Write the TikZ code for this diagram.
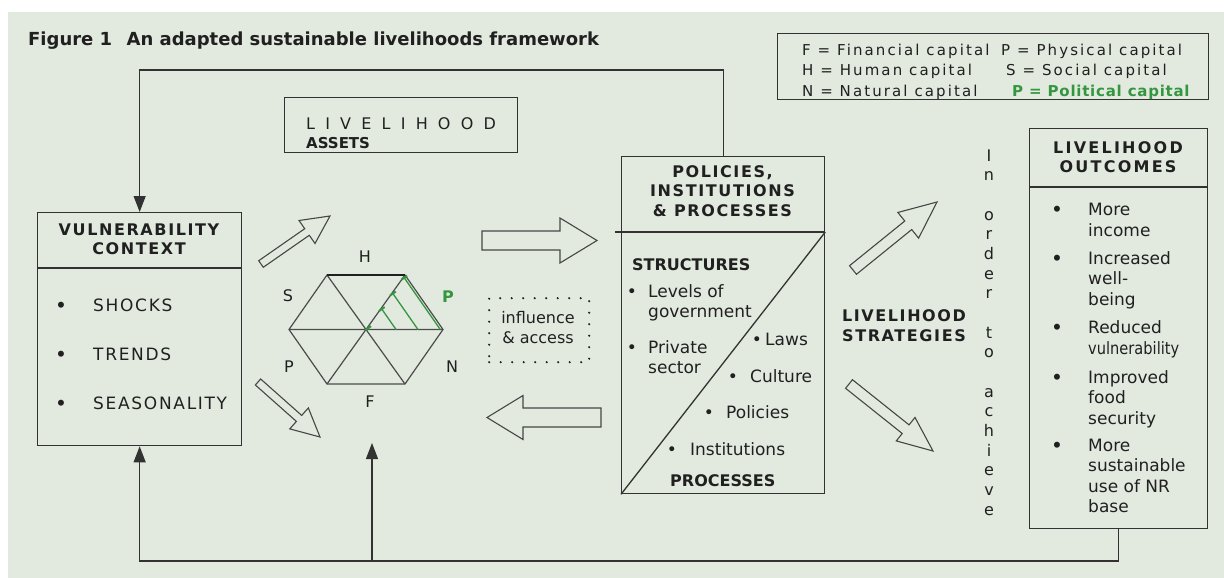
\documentclass[tikz,border=0pt]{standalone}
\usepackage{fontspec}
\setmainfont{DejaVu Sans}
\newfontfamily\trackXS[LetterSpace=5]{DejaVu Sans}
\newfontfamily\trackS[LetterSpace=10]{DejaVu Sans}
\newfontfamily\trackM[LetterSpace=14]{DejaVu Sans}
\newfontfamily\trackXL[LetterSpace=32]{DejaVu Sans}
\usetikzlibrary{calc,arrows.meta}

\definecolor{panel}{RGB}{226,234,223}
\definecolor{ink}{RGB}{32,32,32}
\definecolor{linec}{RGB}{50,50,50}
\definecolor{arrowc}{RGB}{70,70,70}
\definecolor{hexc}{RGB}{75,75,75}
\definecolor{polgreen}{RGB}{52,150,64}

\newcommand\setfs[1]{\fontsize{#1}{#1}\selectfont}

% hollow block arrow: name, tail, tip, shaft half-width, head half-width, head length
\newcommand\hollowarrow[6]{%
  \coordinate (#1-t) at #2;
  \coordinate (#1-p) at #3;
  \coordinate (#1-b) at ($(#1-p)!#6!(#1-t)$);
  \draw[blockarrow] ($(#1-t)!#4!90:(#1-p)$) -- ($(#1-b)!#4!-90:(#1-t)$)
    -- ($(#1-b)!#5!-90:(#1-t)$) -- (#1-p) -- ($(#1-b)!#5!90:(#1-t)$)
    -- ($(#1-b)!#4!90:(#1-t)$) -- ($(#1-t)!#4!-90:(#1-p)$) -- cycle;}

\begin{document}
\begin{tikzpicture}[x=1pt,y=-1pt,
  txt/.style={inner sep=0pt, text=ink},
  box/.style={draw=linec, line width=1.3pt, inner sep=0pt},
  rule/.style={draw=linec, line width=1.3pt},
  link/.style={draw=linec, line width=1.2pt},
  tip/.style={-{Triangle[width=12pt,length=16pt]}},
  blockarrow/.style={draw=arrowc, line width=1.1pt, line join=miter},
  hexline/.style={draw=hexc, line width=1.2pt},
  hatch/.style={draw=polgreen, line width=1.3pt, {Bar[width=7pt,line width=2pt]}-},
  dotbox/.style={draw=ink, line width=2.4pt, dash pattern=on 0pt off 11.5pt, line cap=round},
  bul/.style={txt, anchor=base},
]
% page and panel
\fill[white] (0,0) rectangle (1224,578);
\fill[panel] (8,12) rectangle (1224,578);
\useasboundingbox (0,0) rectangle (1224,578);

% heading
\node[txt, anchor=base west, font=\bfseries\setfs{18}] (title) at (28,46)
  {Figure 1\hspace{0.8em}An adapted sustainable livelihoods framework};

% key to the capitals
\node[box, anchor=north west, minimum width=431pt, minimum height=66pt] (legend) at (777,33) {};
\begin{scope}[every node/.style={txt, anchor=base west, font=\trackM\setfs{15}}]
  \node (kF) at (802,56) {F = Financial capital};
  \node (kH) at (802,76) {H = Human capital};
  \node (kN) at (802,96) {N = Natural capital};
  \node (kP) at (1001,56) {P = Physical capital};
  \node (kS) at (1006,76) {S = Social capital};
  \node[text=polgreen, font=\trackXS\bfseries\setfs{15}] (kPol) at (1012,96) {P = Political capital};
\end{scope}

% livelihood assets
\node[box, anchor=north west, minimum width=233pt, minimum height=55pt] (assets) at (284,97) {};
\node[txt, anchor=base west, font=\trackXL\setfs{16}] (assetsA) at (306,129) {L I V E L I H O O D};
\node[txt, anchor=base west, font=\bfseries\setfs{15}] (assetsB) at (306,148) {ASSETS};

% vulnerability context
\node[box, anchor=north west, minimum width=204pt, minimum height=233pt] (vuln) at (37,212) {};
\draw[rule] (vuln.west |- 0,268) -- (vuln.east |- 0,268);
\node[txt, anchor=base, align=center, font=\trackS\bfseries\fontsize{16}{19}\selectfont] (vulnT) at (139,254)
  {VULNERABILITY\\CONTEXT};
\begin{scope}[every node/.style={txt, font=\trackS\setfs{17}}]
  \node[bul, font=\bfseries\setfs{17}] (vb1) at (61,311) {•};
  \node[anchor=base west] (shocks) at (93,311) {SHOCKS};
  \node[bul, font=\bfseries\setfs{17}] (vb2) at (61,360) {•};
  \node[anchor=base west] (trends) at (93,360) {TRENDS};
  \node[bul, font=\bfseries\setfs{17}] (vb3) at (61,409) {•};
  \node[anchor=base west] (season) at (93,409) {SEASONALITY};
\end{scope}

% asset hexagon
\coordinate (hC)  at (366,329.5);
\coordinate (hR)  at (443,329.5);
\coordinate (hL)  at (289,329.5);
\coordinate (hTR) at (405,275);
\coordinate (hTL) at (327,275);
\coordinate (hBR) at (405,384);
\coordinate (hBL) at (327,384);
\draw[hexline] (hR) -- (hTR) -- (hTL) -- (hL) -- (hBL) -- (hBR) -- cycle;
\draw[hexline] (hL) -- (hR) (hTL) -- (hBR) (hTR) -- (hBL);
\draw[line width=1.6pt, draw=ink] (hTL) -- (hTR);
\foreach \t in {0.04,0.39,0.675,0.965}
  \draw[hatch] ($(hC)!\t!(hTR)$) -- ($(hC)!\t!(hR)$);
\begin{scope}[every node/.style={txt, font=\setfs{16}}]
  \node (capH) at (365,257) {H};
  \node (capS) at (288,296) {S};
  \node[text=polgreen, font=\bfseries\setfs{16}] (capPol) at (448,297) {P};
  \node (capP) at (289,367) {P};
  \node (capN) at (452,367) {N};
  \node (capF) at (370,402) {F};
\end{scope}

% influence and access
\node[dotbox, anchor=north west, minimum width=100pt, minimum height=64pt, inner sep=0pt] (infl) at (488,297) {};
\node[txt, anchor=base, align=center, font=\fontsize{16}{20}\selectfont] (inflT) at (538,343) {influence\\\& access};

% policies, institutions and processes
\node[box, anchor=north west, minimum width=203pt, minimum height=337pt] (pip) at (621,156) {};
\coordinate (pipL) at (615,232);
\draw[rule] (pipL) -- (pip.east |- pipL);
\draw[rule] (pip.south west) -- (pip.east |- pipL);
\node[txt, anchor=base, align=center, font=\trackS\bfseries\fontsize{16}{19.5}\selectfont] (pipT) at (722.5,216)
  {POLICIES,\\INSTITUTIONS\\\& PROCESSES};
\node[txt, anchor=base west, font=\bfseries\setfs{16}] (struct) at (632,270) {STRUCTURES};
\node[txt, anchor=base west, font=\bfseries\setfs{16}] (proc) at (670,486) {PROCESSES};
\begin{scope}[every node/.style={txt, font=\fontsize{17}{20}\selectfont}]
  \node[bul] (pb1) at (632,297) {•};
  \node[anchor=base west, align=left] (levels) at (648,317) {Levels of\\government};
  \node[bul] (pb2) at (632,353) {•};
  \node[anchor=base west, align=left] (private) at (648,373) {Private\\sector};
  \node[bul] (pb3) at (757,345) {•};
  \node[anchor=base west] (laws) at (765,345) {Laws};
  \node[bul] (pb4) at (733,382) {•};
  \node[anchor=base west] (culture) at (750,382) {Culture};
  \node[bul] (pb5) at (709,418) {•};
  \node[anchor=base west] (policies) at (726,418) {Policies};
  \node[bul] (pb6) at (672,455) {•};
  \node[anchor=base west] (instit) at (690,455) {Institutions};
\end{scope}

% strategies
\node[txt, anchor=base, align=center, font=\trackS\bfseries\fontsize{16}{20}\selectfont] (strat) at (904,341)
  {LIVELIHOOD\\STRATEGIES};
\foreach \k/\ch in {0/I,1/n,3/o,4/r,5/d,6/e,7/r,9/t,10/o,12/a,13/c,14/h,15/i,16/e,17/v,18/e}
  \node[txt, anchor=base, font=\setfs{16}] (ach\k) at (989,{161+19.67*\k}) {\ch};

% outcomes
\node[box, anchor=north west, minimum width=178pt, minimum height=400pt] (outc) at (1029,128) {};
\draw[rule] (outc.west |- 0,187) -- (outc.east |- 0,187);
\node[txt, anchor=base, align=center, font=\trackM\bfseries\fontsize{16}{19}\selectfont] (outcT) at (1118,172)
  {LIVELIHOOD\\OUTCOMES};
\begin{scope}[every node/.style={txt, font=\fontsize{17}{20.5}\selectfont}]
  \node[bul, font=\bfseries\setfs{17}] (ob1) at (1057,215) {•};
  \node[anchor=base west, align=left] (o1) at (1088,236) {More\\income};
  \node[bul, font=\bfseries\setfs{17}] (ob2) at (1057,264) {•};
  \node[anchor=base west, align=left] (o2) at (1088,305) {Increased\\well-\\being};
  \node[bul, font=\bfseries\setfs{17}] (ob3) at (1057,333) {•};
  \node[anchor=base west, align=left] (o3) at (1088,354) {Reduced\\\scalebox{0.86}[1]{vulnerability}};
  \node[bul, font=\bfseries\setfs{17}] (ob4) at (1057,383) {•};
  \node[anchor=base west, align=left] (o4) at (1088,424) {Improved\\food\\security};
  \node[bul, font=\bfseries\setfs{17}] (ob5) at (1057,451) {•};
  \node[anchor=base west, align=left] (o5) at (1088,512.5) {More\\sustainable\\use of NR\\base};
\end{scope}

% block arrows between the stages
\hollowarrow{vaUp}{(261,264)}{(330,216)}{4pt}{14pt}{28pt}
\hollowarrow{vaDown}{(258,382)}{(320,437)}{4pt}{14pt}{28pt}
\hollowarrow{toPIP}{(482,240.5)}{(597,240.5)}{9.5pt}{22.5pt}{37pt}
\hollowarrow{fromPIP}{(601,417.5)}{(487,417.5)}{9.5pt}{22pt}{36pt}
\hollowarrow{strUp}{(853,270)}{(937,202)}{5.5pt}{16.5pt}{37pt}
\hollowarrow{strDown}{(849,384)}{(933,451)}{5.5pt}{15pt}{35pt}

% feedback loops
\coordinate (topline) at (0,70);
\coordinate (botline) at (0,561);
\coordinate (hexin) at (372,443);
\draw[link, tip] (pip.north) -- (pip.north |- topline) -| (vuln.north);
\draw[link, tip] (outc.south) -- (outc.south |- botline) -| (vuln.south);
\draw[link, tip] (hexin |- botline) -- (hexin);
\end{tikzpicture}
\end{document}
